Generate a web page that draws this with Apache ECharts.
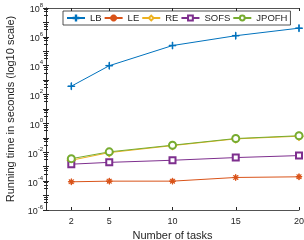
<!DOCTYPE html>
<html>
<head>
<meta charset="utf-8">
<script src="https://cdn.jsdelivr.net/npm/echarts@6/dist/echarts.min.js"></script>
<style>
  html, body { margin: 0; padding: 0; background: #fff; }
  #chart { width: 304px; height: 240px; }
</style>
</head>
<body>
<div id="chart"></div>
<script>
// number of tasks on the x axis
var tasks = [2, 5, 10, 15, 20];
// running times (s)
var lbTimes    = [380, 1.0e4, 2.5e5, 1.2e6, 4.0e6];
var leTimes    = [9.0e-5, 1.0e-4, 1.0e-4, 1.8e-4, 2.0e-4];
var reTimes    = [2.8e-3, 9.5e-3, 0.029, 0.085, 0.13];
var sofsTimes  = [1.5e-3, 2.0e-3, 2.8e-3, 4.3e-3, 5.9e-3];
var jpofhTimes = [3.6e-3, 0.0107, 0.031, 0.09, 0.14];
var xTicks = [2, 5, 10, 15, 20];

var txt = '#262626';
var FONT = 'Liberation Sans';

function pairs(vals) {
    return tasks.map(function (t, i) { return [t, vals[i]]; });
}

// marker shapes (MATLAB style + and *)
var plusPath = 'path://M0,4.6H10V5.4H0Z M4.6,0H5.4V10H4.6Z';
var starPath = 'path://M0,4.6H10V5.4H0Z M4.6,0H5.4V10H4.6Z M1.2,1.8L1.8,1.2L8.8,8.2L8.2,8.8Z M8.2,1.2L8.8,1.8L1.8,8.8L1.2,8.2Z';

function mkSeries(name, vals, color, symbol, size) {
    return {
        name: name,
        type: 'line',
        data: pairs(vals),
        symbol: symbol,
        symbolSize: size,
        showAllSymbol: true,
        lineStyle: { color: color, width: 1 },
        itemStyle: { color: color, borderColor: color, borderWidth: 1 },
        animation: false
    };
}

var chart = echarts.init(document.getElementById('chart'));

chart.setOption({
    textStyle: { fontFamily: FONT },
    grid: { left: 46, right: 5, top: 8, bottom: 30, outerBoundsMode: 'none' },
    legend: {
        left: 63,
        top: 11,
        width: 238,
        padding: [2, 3],
        itemGap: 2,
        itemWidth: 18,
        itemHeight: 6,
        borderColor: txt,
        borderWidth: 0.8,
        borderRadius: 0,
        backgroundColor: '#fff',
        textStyle: { fontFamily: FONT, fontSize: 9.5, color: txt },
        data: ['LB', 'LE', 'RE', 'SOFS', 'JPOFH']
    },
    xAxis: [{
        type: 'value',
        min: 0,
        max: 20,
        name: 'Number of tasks',
        nameLocation: 'middle',
        nameGap: 19,
        nameTextStyle: { fontFamily: FONT, fontSize: 11, color: txt },
        axisLine: { lineStyle: { color: txt, width: 0.8 } },
        axisTick: { inside: true, length: 3, customValues: xTicks, lineStyle: { color: txt } },
        axisLabel: { customValues: xTicks, fontSize: 9, color: txt, margin: 7 },
        splitLine: { show: false }
    }, {
        type: 'value',
        position: 'top',
        min: 0,
        max: 20,
        axisLine: { show: true, onZero: false, lineStyle: { color: txt, width: 0.8 } },
        axisTick: { inside: true, length: 3, customValues: xTicks, lineStyle: { color: txt } },
        axisLabel: { show: false },
        splitLine: { show: false }
    }],
    yAxis: [{
        type: 'log',
        logBase: 10,
        min: 1e-6,
        max: 1e8,
        interval: 1,
        name: 'Running time in seconds (log10 scale)',
        nameLocation: 'middle',
        nameGap: 30,
        nameTextStyle: { fontFamily: FONT, fontSize: 11, color: txt },
        axisLine: { show: true, lineStyle: { color: txt, width: 0.8 } },
        axisTick: { inside: true, length: 3, lineStyle: { color: txt } },
        minorTick: { show: true, splitNumber: 4, length: 2, lineStyle: { color: txt } },
        axisLabel: {
            color: txt,
            margin: 3,
            formatter: function (v) {
                var e = Math.round(Math.log10(v));
                if (e % 2 !== 0) return '';
                return '{b|10}{s|' + e + '}';
            },
            rich: {
                b: { fontSize: 9, color: txt, fontFamily: FONT, padding: [4, 0, 0, 0] },
                s: { fontSize: 6, color: txt, fontFamily: FONT, padding: [0, 0, 6, 0] }
            }
        },
        splitLine: { show: false }
    }, {
        type: 'log',
        logBase: 10,
        position: 'right',
        min: 1e-6,
        max: 1e8,
        interval: 1,
        axisLine: { show: true, lineStyle: { color: txt, width: 0.8 } },
        axisTick: { inside: true, length: 3, lineStyle: { color: txt } },
        minorTick: { show: true, splitNumber: 4, length: 2, lineStyle: { color: txt } },
        axisLabel: { show: false },
        splitLine: { show: false }
    }],
    series: [
        mkSeries('LB', lbTimes, '#0072BD', plusPath, 7),
        mkSeries('LE', leTimes, '#D95319', starPath, 6),
        mkSeries('RE', reTimes, '#EDB120', 'emptyDiamond', 7),
        mkSeries('SOFS', sofsTimes, '#7E2F8E', 'emptyRect', 6),
        mkSeries('JPOFH', jpofhTimes, '#77AC30', 'emptyCircle', 7)
    ]
});
</script>
</body>
</html>
